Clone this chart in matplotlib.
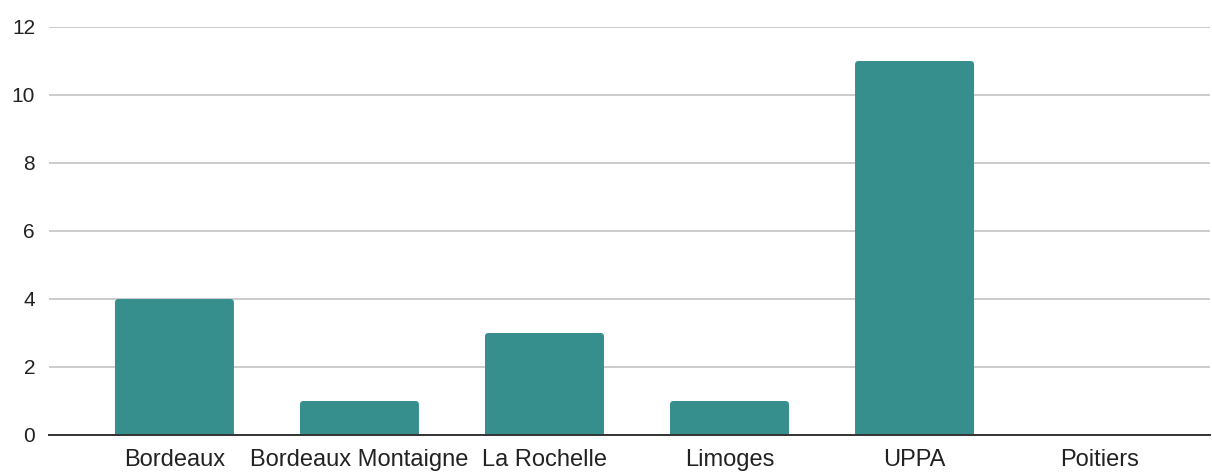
import matplotlib
matplotlib.use("Agg")
import matplotlib.pyplot as plt
from matplotlib.patches import FancyBboxPatch

categories = ["Bordeaux", "Bordeaux Montaigne", "La Rochelle", "Limoges", "UPPA", "Poitiers"]
values = [4, 1, 3, 1, 11, 0]
yticks = [0, 2, 4, 6, 8, 10, 12]

plt.rcParams['font.family'] = ['Liberation Sans', 'DejaVu Sans']

fig = plt.figure(figsize=(12.12, 4.72), dpi=100)
ax = fig.add_axes([49/1212, 37/472, (1210-49)/1212, (435-27)/472])

color = "#368f8c"
width = 0.643
bars = ax.bar(range(len(categories)), values, width=width, color=color, zorder=3)
# rounded top corners
px_x = 185.0
px_y = (435-27)/12.0
for b in bars:
    h = b.get_height()
    b.set_visible(False)
    if h <= 0:
        continue
    r = 3.5/px_x
    p = FancyBboxPatch((b.get_x()+r, -1 + r*px_x/px_y), b.get_width()-2*r, h+1-2*r*px_x/px_y,
                       boxstyle=f"round,pad={r}", mutation_aspect=px_x/px_y,
                       facecolor=color, edgecolor="none", zorder=3)
    ax.add_patch(p)

ax.set_xlim(-0.678, 5.597)
ax.set_ylim(0, 12)
ax.set_yticks(yticks)
ax.set_yticklabels([str(v) for v in yticks])
ax.set_xticks(range(len(categories)))
ax.set_xticklabels(categories)
ax.grid(axis='y', color="#cccccc", linewidth=1.4, zorder=0)
for s in ['top', 'right', 'left']:
    ax.spines[s].set_visible(False)
ax.spines['bottom'].set_color("#333333")
ax.spines['bottom'].set_linewidth(1.4)
ax.spines['bottom'].set_zorder(4)
ax.tick_params(axis='both', length=0, colors="#222222")
ax.tick_params(axis='y', pad=10, labelsize=15)
ax.tick_params(axis='x', pad=10, labelsize=17)

fig.savefig("out.png", dpi=100)
